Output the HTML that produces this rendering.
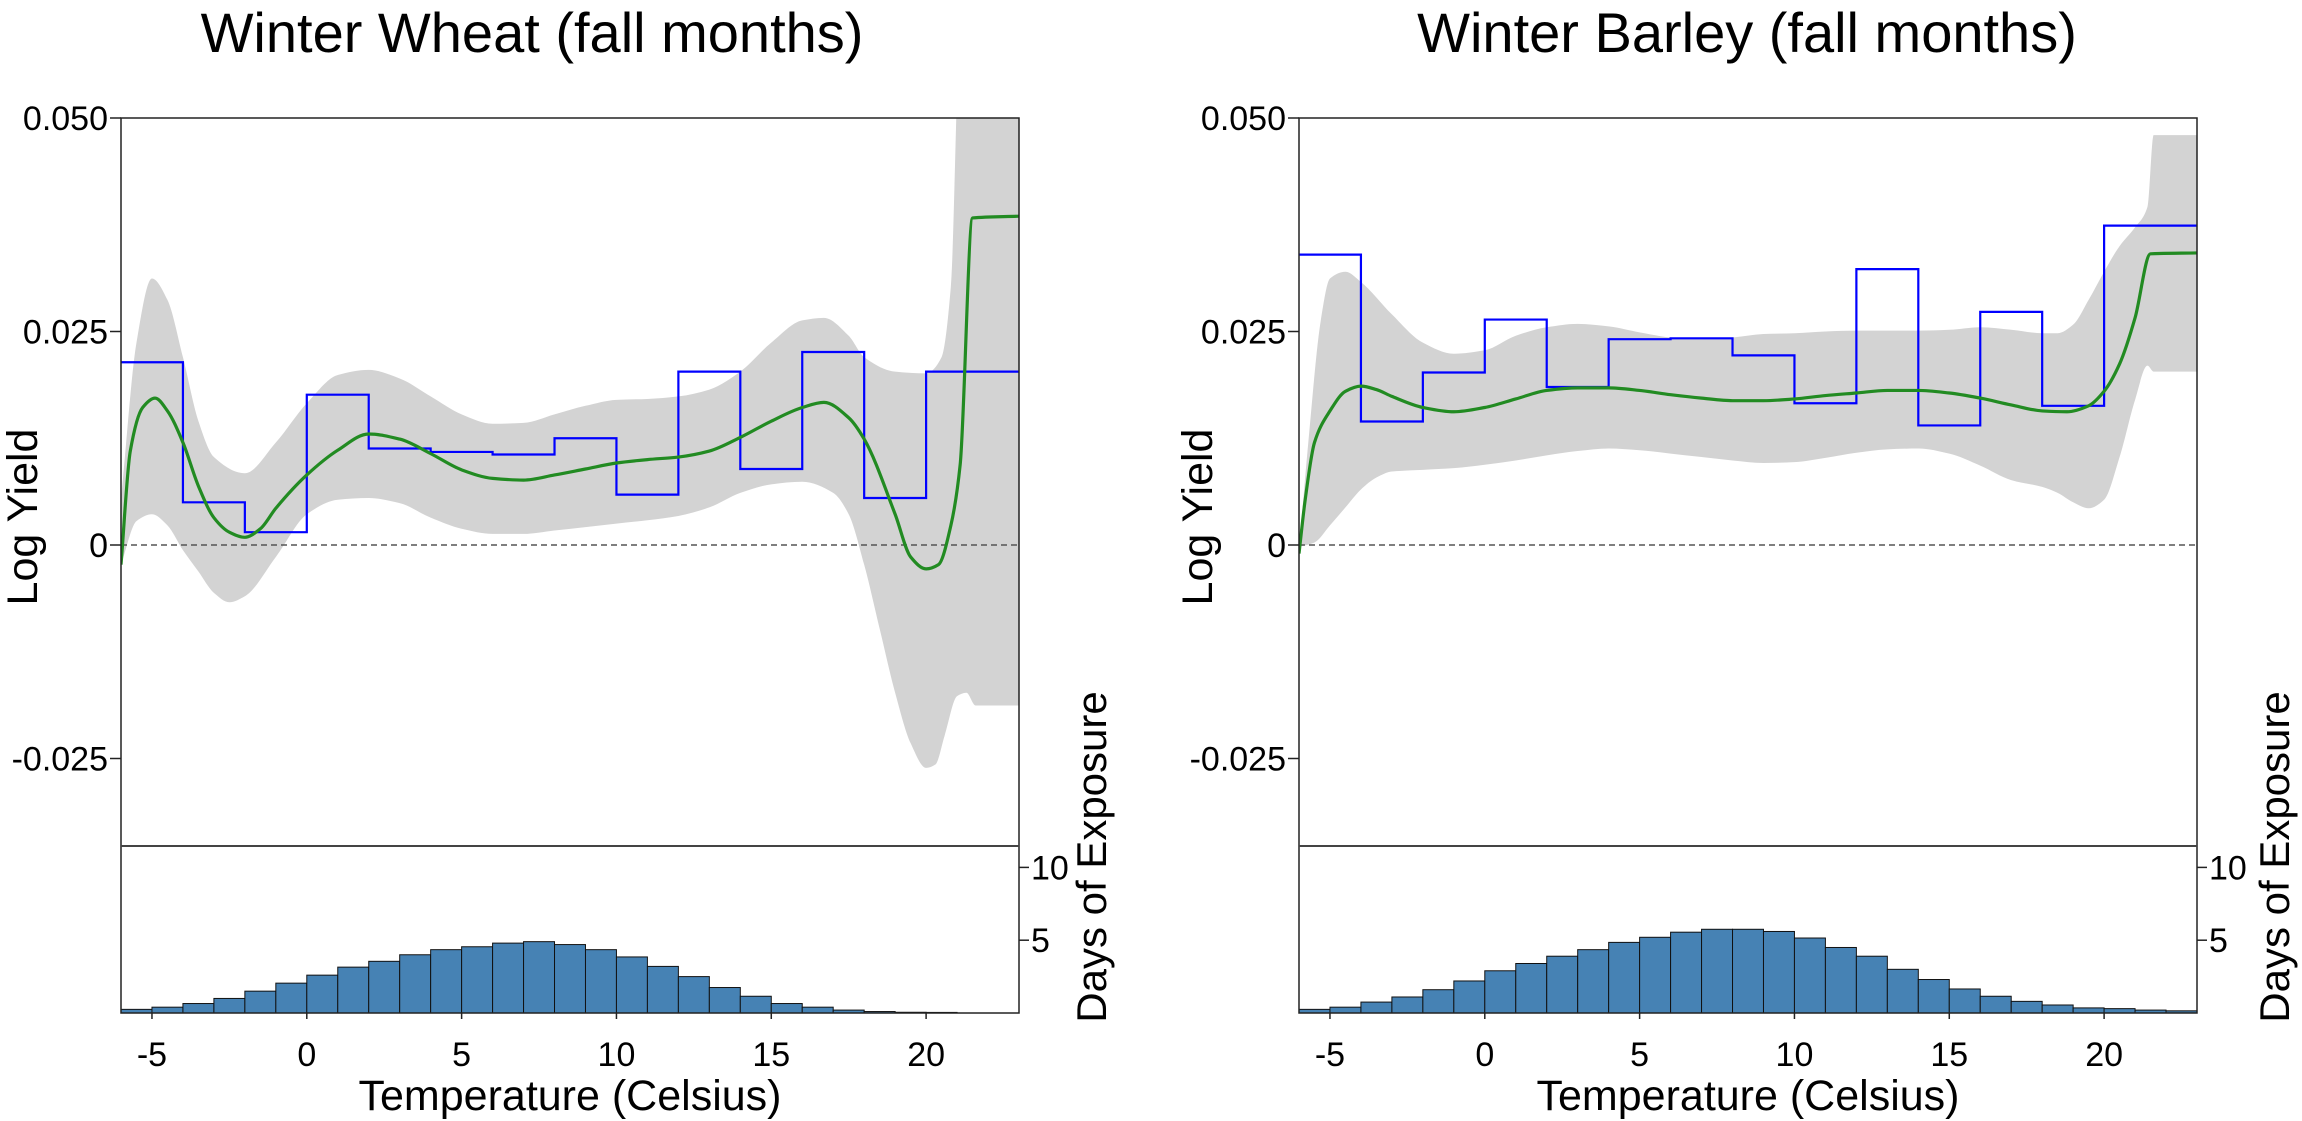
<!DOCTYPE html>
<html><head><meta charset="utf-8"><style>
body{margin:0;background:#fff}
svg{display:block;font-family:"Liberation Sans",Arial,sans-serif}
</style></head><body>
<svg id="fig" width="2302" height="1121" viewBox="0 0 2302 1121" xmlns="http://www.w3.org/2000/svg"></svg>
<script>
// ---- shared axes data ----
const yTicks = [0.05, 0.025, 0, -0.025];
const yTickLabels = ["0.050", "0.025", "0", "-0.025"];
const xTicks = [-5, 0, 5, 10, 15, 20];
const hTicks = [10, 5];
// ---- Winter Wheat ----
const wheatStepEdges = [-6,-4,-2,0,2,4,6,8,10,12,14,16,18,20,23];
const wheatStepVals = [0.0214,0.0050,0.0015,0.0176,0.0113,0.0109,0.0106,0.0125,0.0059,0.0203,0.0089,0.0226,0.0055,0.0203];
const wheatCurveX = [-6,-5.7,-5.3,-4.9,-4.5,-4,-3.5,-3,-2.5,-2,-1.5,-1,0,1,2,3,4,5,6,7,8,9,10,11,12,13,14,15,16,16.7,17.5,18,19,19.5,20,20.4,20.8,21.1,21.5,23];
const wheatCurveY = [-0.0023,0.011,0.0161,0.0172,0.0157,0.012,0.0069,0.0032,0.0015,0.0009,0.0019,0.0043,0.0082,0.0111,0.013,0.0124,0.0107,0.0088,0.0078,0.0076,0.0082,0.0089,0.0096,0.01,0.0103,0.011,0.0126,0.0145,0.0161,0.0167,0.0149,0.0124,0.0036,-0.0014,-0.0028,-0.0023,0.0023,0.0094,0.0383,0.0385];
const wheatUpX = [-6,-5.5,-5,-4.5,-4,-3.5,-3,-2,-1,0,1,2,3,4,5,6,7,8,9,10,11,12,13,14,15,16,16.7,17.5,18,19,20,20.5,20.8,21.1,23];
const wheatUpY = [0.0053,0.0237,0.0312,0.0287,0.022,0.0145,0.0103,0.0084,0.012,0.0166,0.0199,0.0205,0.0195,0.0174,0.0153,0.0142,0.0143,0.0153,0.0163,0.017,0.0171,0.0174,0.0182,0.0203,0.0237,0.0263,0.0266,0.0245,0.022,0.0203,0.0201,0.022,0.0303,0.06,0.06];
const wheatLoX = [-6,-5.5,-5,-4.5,-4,-3.5,-3,-2.5,-2,-1,0,1,2,3,4,5,6,7,8,9,10,11,12,13,14,15,16,17,17.5,18,18.5,19,19.5,20,20.3,20.6,21,21.3,21.6,23];
const wheatLoY = [-0.0023,0.0028,0.0036,0.0023,-0.0006,-0.0031,-0.0056,-0.0067,-0.006,-0.0014,0.0036,0.0053,0.0055,0.0049,0.0032,0.0019,0.0013,0.0013,0.0017,0.0021,0.0025,0.0029,0.0034,0.0044,0.0061,0.0071,0.0074,0.0061,0.0036,-0.0023,-0.0098,-0.0173,-0.0232,-0.0261,-0.0257,-0.0223,-0.0177,-0.0173,-0.0188,-0.0188];
const wheatHistStart = -6;
const wheatHist = [0.25,0.4,0.65,1.0,1.5,2.05,2.6,3.15,3.55,4.0,4.35,4.55,4.8,4.9,4.7,4.35,3.85,3.2,2.5,1.75,1.15,0.65,0.4,0.2,0.1,0.05,0.04];
// ---- Winter Barley ----
const barleyStepEdges = [-6,-4,-2,0,2,4,6,8,10,12,14,16,18,20,23];
const barleyStepVals = [0.0340,0.01446,0.0202,0.0264,0.0185,0.0241,0.0242,0.0222,0.0166,0.0323,0.0140,0.0273,0.0163,0.0374];
const barleyCurveX = [-6,-5.8,-5.5,-5,-4.5,-4,-3.5,-3,-2,-1,0,1,2,3,4,5,6,7,8,9,10,11,12,13,14,15,16,17,18,18.8,19.5,20,20.5,21,21.5,23];
const barleyCurveY = [-0.001,0.0053,0.012,0.0157,0.018,0.0186,0.0182,0.0174,0.0161,0.0156,0.0161,0.0171,0.0181,0.0184,0.0184,0.0181,0.0176,0.0172,0.0169,0.0169,0.0171,0.0175,0.0178,0.0181,0.0181,0.0178,0.0172,0.0164,0.0157,0.0156,0.0163,0.018,0.0212,0.0266,0.0341,0.0342];
const barleyUpX = [-6,-5.7,-5.3,-5,-4.5,-4,-3,-2,-1,0,1,2,3,4,5,6,7,8,9,10,11,12,13,14,15,16,17,18,18.5,19,19.5,20,20.5,21,21.4,21.6,23];
const barleyUpY = [-0.0006,0.012,0.0262,0.0312,0.032,0.0308,0.027,0.0237,0.0224,0.0228,0.0245,0.0255,0.0259,0.0256,0.0249,0.0243,0.0241,0.0243,0.0247,0.0248,0.025,0.0251,0.0251,0.0251,0.0252,0.0255,0.0252,0.0248,0.0248,0.0258,0.0287,0.032,0.035,0.0372,0.0396,0.048,0.048];
const barleyLoX = [-6,-5.5,-5,-4.5,-4,-3.5,-3,-2,-1,0,1,2,3,4,5,6,7,8,9,10,11,12,13,14,15,16,17,18,18.5,19,19.5,20,20.5,21,21.4,21.6,23];
const barleyLoY = [-0.0002,0.0003,0.0023,0.0044,0.0065,0.0079,0.0086,0.0088,0.009,0.0094,0.0099,0.0105,0.011,0.0113,0.0111,0.0107,0.0103,0.0099,0.0096,0.0097,0.0102,0.0108,0.0112,0.0113,0.0107,0.0093,0.0076,0.0068,0.0061,0.005,0.0043,0.0053,0.0103,0.017,0.021,0.0203,0.0203];
const barleyHistStart = -6;
const barleyHist = [0.25,0.4,0.75,1.1,1.6,2.2,2.9,3.4,3.9,4.35,4.85,5.2,5.55,5.75,5.75,5.6,5.15,4.5,3.9,3.0,2.3,1.65,1.15,0.8,0.55,0.35,0.3,0.2,0.15];

const NS = "http://www.w3.org/2000/svg";
const svg = document.getElementById('fig');
function mk(tag, attrs, parent){ const e=document.createElementNS(NS,tag); for(const k in attrs) e.setAttribute(k,attrs[k]); (parent||svg).appendChild(e); return e; }
// monotone cubic (Fritsch-Carlson) path through points sorted by x; reverse flag draws right-to-left
function monotone(pts, start, reverse){
  const n=pts.length, dx=[], m=[], t=new Array(n);
  for(let i=0;i<n-1;i++){ dx.push(pts[i+1][0]-pts[i][0]); m.push((pts[i+1][1]-pts[i][1])/dx[i]); }
  t[0]=m[0]; t[n-1]=m[n-2];
  for(let i=1;i<n-1;i++){
    if(m[i-1]*m[i]<=0) t[i]=0;
    else { const w1=2*dx[i]+dx[i-1], w2=dx[i]+2*dx[i-1]; t[i]=(w1+w2)/(w1/m[i-1]+w2/m[i]); }
  }
  const segs=[];
  for(let i=0;i<n-1;i++){
    const p1=pts[i], p2=pts[i+1], h=dx[i];
    segs.push([p1,[p1[0]+h/3,p1[1]+t[i]*h/3],[p2[0]-h/3,p2[1]-t[i+1]*h/3],p2]);
  }
  let d='';
  if(!reverse){
    d=(start?'M':'L')+pts[0][0]+','+pts[0][1];
    segs.forEach(s=>{ d+=' C'+s[1]+' '+s[2]+' '+s[3]; });
  } else {
    d=(start?'M':'L')+pts[n-1][0]+','+pts[n-1][1];
    for(let i=segs.length-1;i>=0;i--){ const s=segs[i]; d+=' C'+s[2]+' '+s[1]+' '+s[0]; }
  }
  return d;
}

function panel(id, left, title, titleX, stepE, stepV, cX, cY, uX, uY, lX, lY, hStart, hist, ylabX, dayX){
  const top=118, sep=846, bot=1013, right=left+898;
  const g = mk('g',{});
  
  
  const sx = t => left + (t+6)/29*898;
  const sy = v => 545 - v/0.025*213.5;
  const hy = d => bot - d*14.56;
  const cp = mk('clipPath',{id:id+'-clip'}, g);
  mk('rect',{x:left,y:top,width:898,height:sep-top}, cp);
  // band
  const up = uX.map((x,i)=>[sx(x),sy(uY[i])]);
  const lo = lX.map((x,i)=>[sx(x),sy(lY[i])]);
  const d = monotone(up,true,false)+' '+monotone(lo,false,true)+' Z';
  const band = mk('path',{d:d,fill:'#d3d3d3','clip-path':'url(#'+id+'-clip)'}, g);
  
  
  // zero line
  const z = mk('line',{x1:left,x2:right,y1:sy(0),y2:sy(0),stroke:'#555','stroke-width':1.5,'stroke-dasharray':'6,4'}, g);
  
  
  // step
  let sd='';
  stepV.forEach((v,i)=>{ sd += (i===0?'M':' L')+sx(stepE[i])+','+sy(v)+' L'+sx(stepE[i+1])+','+sy(v); });
  const st = mk('path',{d:sd,fill:'none',stroke:'#0000ff','stroke-width':2.2}, g);
  
  
  // curve
  const cd = monotone(cX.map((x,i)=>[sx(x),sy(cY[i])]), true, false);
  const cu = mk('path',{d:cd,fill:'none',stroke:'#228b22','stroke-width':3.2,'stroke-linejoin':'round','clip-path':'url(#'+id+'-clip)'}, g);
  
  
  // hist
  hist.forEach((h,i)=>{
    const r = mk('rect',{x:sx(hStart+i),y:hy(h),width:sx(1)-sx(0),height:bot-hy(h),fill:'#4682b4',stroke:'#111','stroke-width':1}, g);
    
    
  });
  // box and sep
  mk('rect',{x:left,y:top,width:898,height:bot-top,fill:'none',stroke:'#222','stroke-width':1.5}, g);
  mk('line',{x1:left,x2:right,y1:sep,y2:sep,stroke:'#444','stroke-width':2}, g);
  // y ticks
  yTicks.forEach((v,i)=>{
    mk('line',{x1:left-11,x2:left,y1:sy(v),y2:sy(v),stroke:'#222','stroke-width':1.5}, g);
    const t = mk('text',{x:left-13,y:sy(v)+12,'font-size':34,'text-anchor':'end'}, g);
    t.textContent = yTickLabels[i];
    
    
  });
  hTicks.forEach(v=>{
    mk('line',{x1:right,x2:right+10,y1:hy(v),y2:hy(v),stroke:'#222','stroke-width':1.5}, g);
    const t = mk('text',{x:right+12,y:hy(v)+12,'font-size':34}, g);
    t.textContent = v;
    
    
  });
  xTicks.forEach(v=>{
    mk('line',{x1:sx(v),x2:sx(v),y1:bot,y2:bot+6,stroke:'#222','stroke-width':1.5}, g);
    const t = mk('text',{x:sx(v),y:1066,'font-size':34,'text-anchor':'middle'}, g);
    t.textContent = v;
    
    
  });
  const tt = mk('text',{x:titleX,y:52,'font-size':56,'text-anchor':'middle'}, g);
  tt.textContent = title;
  
  
  const xl = mk('text',{x:(left+right)/2,y:1110,'font-size':43,'text-anchor':'middle'}, g);
  xl.textContent = 'Temperature (Celsius)';
  
  
  const yl = mk('text',{x:0,y:0,'font-size':43,'text-anchor':'middle',transform:'translate('+(ylabX+15)+',517) rotate(-90)'}, g);
  yl.textContent = 'Log Yield';
  
  
  const dl = mk('text',{x:0,y:0,'font-size':42,'text-anchor':'middle',transform:'translate('+(dayX+15)+',857) rotate(-90)'}, g);
  dl.textContent = 'Days of Exposure';
  
  
}
panel('wheat',121,'Winter Wheat (fall months)',532,wheatStepEdges,wheatStepVals,wheatCurveX,wheatCurveY,wheatUpX,wheatUpY,wheatLoX,wheatLoY,wheatHistStart,wheatHist,22,1091);
panel('barley',1299,'Winter Barley (fall months)',1747,barleyStepEdges,barleyStepVals,barleyCurveX,barleyCurveY,barleyUpX,barleyUpY,barleyLoX,barleyLoY,barleyHistStart,barleyHist,1197,2274);
</script>
</body></html>
